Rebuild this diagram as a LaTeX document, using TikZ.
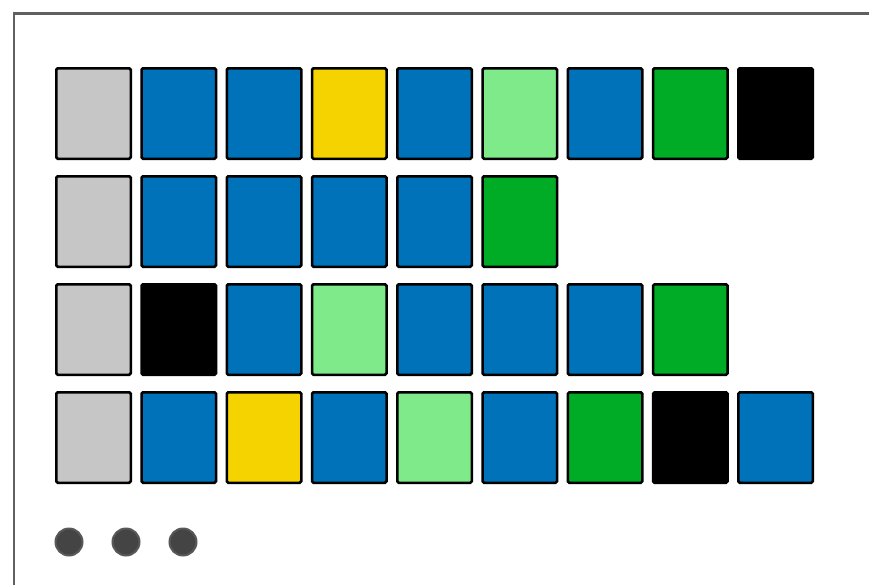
\documentclass[tikz,border=0pt]{standalone}
\definecolor{cgray}{HTML}{C6C6C6}
\definecolor{cblue}{HTML}{0072B9}
\definecolor{cyellow}{HTML}{F5D300}
\definecolor{clgreen}{HTML}{7FEA8A}
\definecolor{cgreen}{HTML}{00AB25}
\definecolor{cblack}{HTML}{000000}
\definecolor{frame}{HTML}{606060}
\definecolor{dotfill}{HTML}{444444}
\definecolor{dotline}{HTML}{585858}
\begin{document}
\begin{tikzpicture}[x=1pt,y=-1pt,
  cell/.style={draw=black,line width=2.5pt,rounded corners=1.5pt,minimum width=74.5pt,minimum height=90.5pt,inner sep=0pt,anchor=north west},
  dot/.style={circle,draw=dotline,fill=dotfill,line width=2pt,minimum size=27pt,inner sep=0pt}]
\useasboundingbox (0,0) rectangle (869,584);
\clip (0,0) rectangle (869,584);
\draw[frame,line width=2.5pt] (14,13.5) rectangle (900,620);
\foreach \row/\cols in {0/{cgray,cblue,cblue,cyellow,cblue,clgreen,cblue,cgreen,cblack},
                        1/{cgray,cblue,cblue,cblue,cblue,cgreen},
                        2/{cgray,cblack,cblue,clgreen,cblue,cblue,cblue,cgreen},
                        3/{cgray,cblue,cyellow,cblue,clgreen,cblue,cgreen,cblack,cblue}}{
  \foreach \c [count=\i from 0] in \cols {
    \node[cell,fill=\c] (c\row-\i) at ({55+85.25*\i},{67+108*\row}) {};
  }
}
\node[dot] (d1) at (69,542) {};
\node[dot] (d2) at (126,542) {};
\node[dot] (d3) at (183,542) {};
\end{tikzpicture}
\end{document}
